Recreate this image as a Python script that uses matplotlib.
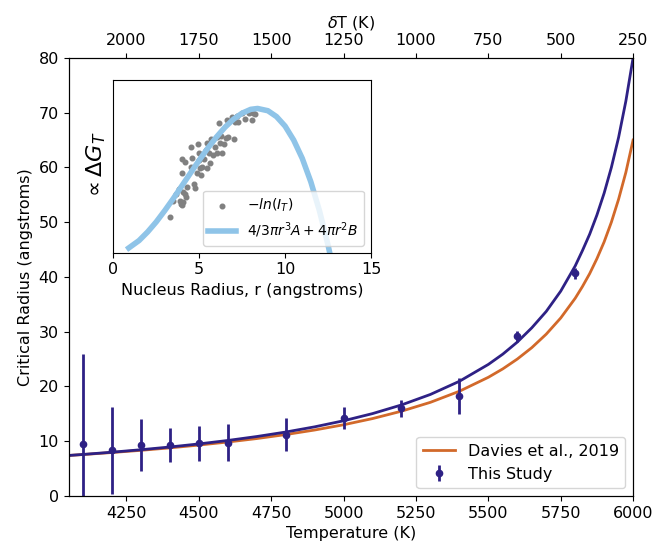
import numpy as np
import matplotlib.pyplot as plt

# Measured critical radius (this study)
temp_pts = [4100, 4200, 4300, 4400, 4500, 4600, 4800, 5000, 5200, 5400, 5600, 5800]
radius_pts = [9.5, 8.3, 9.3, 9.3, 9.6, 9.7, 11.2, 14.2, 16.0, 18.3, 29.2, 40.7]
radius_err = [16.5, 7.9, 4.7, 3.1, 3.2, 3.4, 3.0, 2.0, 1.5, 3.3, 1.0, 1.0]

# Curves
temp_curve = [4050, 4100, 4200, 4300, 4400, 4500, 4600, 4700, 4800, 4900, 5000,
              5100, 5200, 5300, 5400, 5500, 5550, 5600, 5650, 5700, 5750, 5800,
              5825, 5850, 5875, 5900, 5925, 5950, 5975, 6000]
fit_curve = [7.39, 7.58, 7.99, 8.44, 8.94, 9.50, 10.13, 10.85, 11.67, 12.62, 13.73,
             15.04, 16.62, 18.54, 20.94, 24.02, 25.9, 28.1, 30.7, 33.7, 37.4, 42.0,
             44.8, 47.8, 51.3, 55.3, 60.0, 65.5, 72.1, 80.0]
davies_curve = [7.39, 7.56, 7.93, 8.33, 8.78, 9.29, 9.85, 10.48, 11.21, 12.04, 13.0,
                14.13, 15.48, 17.1, 19.12, 21.67, 23.21, 25.0, 27.08, 29.55, 32.5, 36.1,
                38.24, 40.6, 43.33, 46.4, 50.0, 54.2, 59.09, 65.0]

# Top axis: undercooling
dT_ticks = [2000, 1750, 1500, 1250, 1000, 750, 500, 250]
T_melt = 6250

# Inset: -ln(I_T) points vs nucleus radius
inset_r = [3.30, 3.45, 3.65, 3.80, 3.88, 3.96, 4.00, 4.04, 4.08, 4.15, 4.23, 4.31,
           4.00, 4.00, 4.19, 4.50, 4.58, 4.54, 4.70, 4.77, 4.93, 4.97, 5.01, 5.05,
           4.85, 5.12, 5.16, 5.28, 5.39, 5.43, 5.47, 5.59, 5.63, 5.71, 5.82, 5.94,
           6.02, 6.05, 6.13, 6.21, 6.29, 6.33, 6.44, 6.56, 6.60, 6.68, 6.91, 7.03,
           7.06, 7.22, 7.26, 7.49, 7.68, 7.92, 8.07, 8.15, 8.27]
inset_g = [.208, .301, .338, .367, .301, .282, .274, .295, .353, .340, .324, .382,
           .459, .544, .527, .610, .546, .498, .398, .373, .629, .575, .537, .488,
           .463, .450, .498, .544, .595, .488, .633, .575, .521, .660, .566, .610,
           .575, .672, .753, .633, .676, .579, .629, .662, .768, .668, .788, .656,
           .759, .792, .757, .811, .774, .807, .768, .807, .801]

# Inset: classical nucleation curve
model_r = [0.9, 1.5, 2, 2.5, 3, 3.5, 4, 4.5, 5, 5.5, 6, 6.5, 7, 7.5, 8, 8.4,
           9, 9.5, 10, 10.5, 11, 11.5, 12, 12.5, 12.8]
model_g = [.027, .070, .120, .178, .244, .314, .388, .462, .535, .605, .669, .726,
           .773, .808, .830, .835, .822, .788, .733, .652, .546, .410, .243, .044, -.092]

blue = "#2e2185"
orange = "#d2692a"
light = "#8fc4e8"

plt.rcParams["font.size"] = 11.5

fig = plt.figure(figsize=(6.53, 5.48), dpi=100)
ax = fig.add_axes([0.105, 0.095, 0.8645, 0.7993])

ax.plot(temp_curve, davies_curve, color=orange, lw=2, label="Davies et al., 2019")
ax.plot(temp_curve, fit_curve, color=blue, lw=2)
ax.errorbar(temp_pts, radius_pts, yerr=radius_err, fmt="o", color=blue,
            ms=4.5, elinewidth=2, capsize=0, label="This Study")
ax.set_xlim(4050, 6000)
ax.set_ylim(0, 80)
ax.set_xticks([4250, 4500, 4750, 5000, 5250, 5500, 5750, 6000])
ax.set_xlabel("Temperature (K)")
ax.set_ylabel("Critical Radius (angstroms)")
ax.legend(loc="lower right")

top = ax.twiny()
top.set_xlim(ax.get_xlim())
top.set_xticks([T_melt - d for d in dT_ticks])
top.set_xticklabels([str(d) for d in dT_ticks])
top.set_xlabel(r"$\delta$T (K)")

ins = fig.add_axes([0.1735, 0.539, 0.3946, 0.315])
ins.plot(model_r, model_g, color=light, lw=4,
         label=r"$4/3\pi r^3A + 4\pi r^2B$")
ins.scatter(inset_r, inset_g, s=11, color="gray", label=r"$-ln(I_T)$")
ins.set_xlim(0, 15)
ins.set_ylim(0, 1)
ins.set_xticks([0, 5, 10, 15])
ins.set_yticks([])
ins.set_xlabel("Nucleus Radius, r (angstroms)")
ins.set_ylabel(r"$\propto \Delta G_T$", fontsize=16)
h, l = ins.get_legend_handles_labels()
ins.legend(h[::-1], l[::-1], loc="lower right", fontsize=10)

fig.savefig("out.png", dpi=100)
